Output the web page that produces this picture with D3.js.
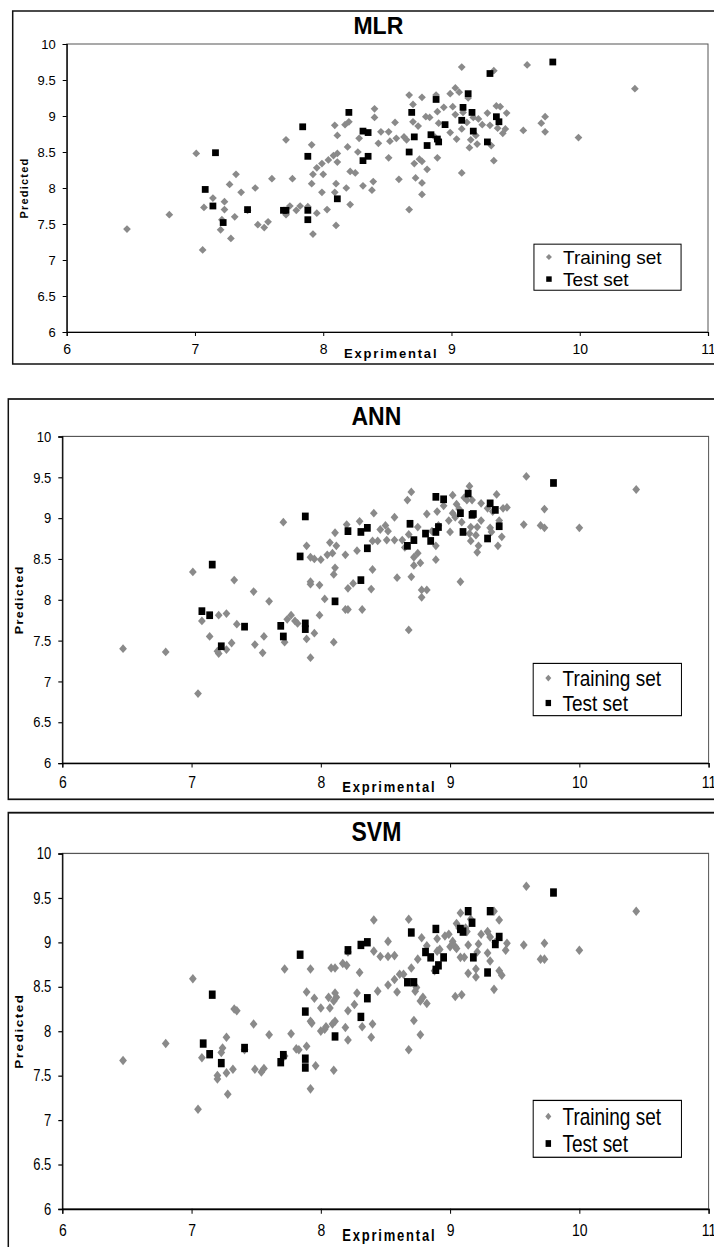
<!DOCTYPE html>
<html>
<head>
<meta charset="utf-8">
<script src="https://cdn.jsdelivr.net/npm/d3@7"></script>
<style>
  body { margin: 0; background: #fff; }
  text { font-family: "Liberation Sans", Arial, sans-serif; fill: #000; }
</style>
</head>
<body>
<div id="chart"></div>
<script>
var mlrTrain = [
  [6.47,7.43],[6.80,7.63],[7.01,8.48],[7.06,7.14],[7.07,7.73],[7.14,7.86],[7.20,7.42],[7.21,7.56],
  [7.23,7.81],[7.23,7.70],[7.27,8.05],[7.28,7.30],[7.31,7.60],[7.32,8.19],[7.36,7.94],[7.41,7.69],
  [7.47,8.00],[7.49,7.49],[7.54,7.45],[7.57,7.53],[7.60,8.13],[7.71,8.67],[7.71,7.63],[7.76,8.13],
  [7.74,7.75],[7.79,7.69],[7.82,7.75],[7.88,7.74],[7.91,8.60],[7.92,8.19],[7.91,8.06],[7.92,7.36],
  [7.95,7.65],[7.95,8.28],[7.99,8.34],[7.99,7.94],[8.00,8.19],[8.03,7.70],[8.04,8.39],[8.08,8.45],
  [8.09,8.87],[8.09,7.94],[8.10,7.48],[8.11,8.48],[8.11,8.73],[8.10,8.06],[8.11,8.36],[8.17,8.88],
  [8.19,8.57],[8.18,8.00],[8.20,8.92],[8.21,8.23],[8.21,7.77],[8.25,8.21],[8.27,8.50],[8.28,8.69],
  [8.31,8.03],[8.38,7.97],[8.39,8.09],[8.40,9.10],[8.40,8.98],[8.43,8.62],[8.45,8.78],[8.51,8.42],
  [8.51,8.78],[8.52,8.65],[8.56,8.91],[8.57,8.69],[8.59,8.12],[8.63,8.71],[8.67,9.29],[8.67,7.70],
  [8.65,8.67],[8.70,9.16],[8.70,8.92],[8.71,8.34],[8.72,8.14],[8.74,8.86],[8.75,8.40],[8.77,8.37],
  [8.77,9.26],[8.77,8.07],[8.77,7.91],[8.80,8.99],[8.81,8.26],[8.83,8.98],[8.87,8.71],[8.88,9.29],
  [8.89,8.42],[8.89,9.06],[8.90,8.90],[8.94,9.12],[8.99,9.31],[8.99,8.77],[9.01,9.13],[9.03,9.02],
  [9.03,9.39],[9.04,8.68],[9.06,9.33],[9.08,8.82],[9.08,9.68],[9.08,8.21],[9.09,9.05],[9.12,8.91],
  [9.13,9.25],[9.14,8.56],[9.15,8.67],[9.17,8.98],[9.19,8.73],[9.20,8.61],[9.21,8.96],[9.24,8.88],
  [9.28,9.04],[9.30,8.87],[9.31,8.59],[9.33,8.38],[9.33,9.63],[9.35,9.14],[9.36,8.83],[9.38,9.13],
  [9.40,8.76],[9.42,8.82],[9.43,9.04],[9.56,8.80],[9.59,9.71],[9.70,8.90],[9.73,8.99],[9.73,8.78],
  [9.99,8.70],[10.43,9.38]
];
var mlrTest = [
  [7.08,7.98],[7.14,7.75],[7.16,8.49],[7.22,7.52],[7.41,7.70],[7.69,7.69],[7.71,7.69],[7.84,8.85],
  [7.88,8.44],[7.88,7.69],[7.88,7.56],[8.11,7.85],[8.20,9.05],[8.31,8.79],[8.35,8.77],[8.31,8.38],
  [8.35,8.44],[8.67,8.50],[8.69,9.05],[8.71,8.71],[8.81,8.59],[8.84,8.74],[8.88,9.23],[8.89,8.68],
  [8.90,8.64],[8.95,8.88],[9.08,8.94],[9.09,9.12],[9.13,9.31],[9.16,9.05],[9.17,8.79],[9.28,8.64],
  [9.30,9.59],[9.35,8.99],[9.37,8.92],[9.79,9.75]
];
var annTrain = [
  [6.47,7.40],[6.80,7.36],[7.01,8.34],[7.05,6.85],[7.08,7.74],[7.14,7.55],[7.21,7.81],[7.21,7.34],
  [7.20,7.37],[7.27,7.83],[7.27,7.39],[7.31,7.47],[7.33,8.24],[7.35,7.70],[7.48,8.10],[7.49,7.45],
  [7.55,7.35],[7.56,7.55],[7.60,7.98],[7.71,8.95],[7.72,7.48],[7.74,7.76],[7.77,7.81],[7.80,7.74],
  [7.82,7.71],[7.89,8.66],[7.89,7.52],[7.92,8.52],[7.92,8.22],[7.92,8.19],[7.92,7.29],[7.95,8.50],
  [7.95,7.59],[7.99,8.18],[8.00,8.49],[7.99,7.81],[8.03,8.01],[8.05,8.55],[8.07,8.70],[8.09,8.57],
  [8.10,7.48],[8.10,8.31],[8.11,8.39],[8.11,8.82],[8.12,8.66],[8.19,8.55],[8.20,8.92],[8.21,8.14],
  [8.19,7.88],[8.21,7.88],[8.25,8.20],[8.28,8.60],[8.30,8.96],[8.32,7.88],[8.39,8.13],[8.40,8.37],
  [8.41,9.06],[8.40,8.72],[8.44,8.72],[8.46,8.86],[8.50,8.91],[8.51,8.73],[8.52,8.84],[8.57,9.01],
  [8.57,8.73],[8.59,8.27],[8.63,8.73],[8.65,8.64],[8.67,9.22],[8.68,7.63],[8.68,8.80],[8.70,9.32],
  [8.70,8.28],[8.72,8.52],[8.72,8.42],[8.75,8.57],[8.75,8.89],[8.77,8.45],[8.78,8.03],[8.78,8.12],
  [8.82,8.12],[8.82,9.05],[8.86,8.84],[8.89,8.49],[8.89,8.66],[8.90,9.08],[8.91,8.91],[8.95,9.15],
  [9.00,8.83],[8.99,8.97],[9.02,9.28],[9.02,9.06],[9.04,9.01],[9.05,9.17],[9.07,9.11],[9.08,8.22],
  [9.09,8.95],[9.11,9.25],[9.13,9.22],[9.15,9.39],[9.15,8.81],[9.16,8.89],[9.16,8.72],[9.17,9.22],
  [9.20,8.79],[9.21,8.89],[9.21,8.58],[9.22,8.66],[9.24,8.97],[9.24,9.18],[9.29,9.12],[9.31,8.88],
  [9.32,8.83],[9.33,9.08],[9.36,9.29],[9.37,8.66],[9.38,8.97],[9.40,8.77],[9.41,9.12],[9.44,9.13],
  [9.57,8.92],[9.59,9.51],[9.70,8.91],[9.73,8.88],[9.73,9.11],[10.00,8.88],[10.44,9.35]
];
var annTest = [
  [7.08,7.86],[7.14,7.81],[7.16,8.43],[7.23,7.43],[7.41,7.67],[7.69,7.68],[7.71,7.55],[7.84,8.53],
  [7.88,9.02],[7.88,7.71],[7.88,7.64],[8.11,7.98],[8.21,8.84],[8.31,8.83],[8.36,8.88],[8.36,8.63],
  [8.31,8.24],[8.67,8.66],[8.69,8.93],[8.72,8.73],[8.81,8.81],[8.85,8.72],[8.89,9.26],[8.89,8.83],
  [8.91,8.89],[8.95,9.23],[9.08,9.06],[9.10,8.83],[9.14,9.30],[9.17,9.04],[9.18,9.05],[9.29,8.75],
  [9.31,9.18],[9.35,9.10],[9.38,8.90],[9.80,9.43]
];
var svmTrain = [
  [6.47,7.67],[6.80,7.86],[7.01,8.59],[7.05,7.12],[7.08,7.70],[7.23,7.76],[7.24,7.81],[7.20,7.50],
  [7.20,7.46],[7.27,7.93],[7.27,7.53],[7.28,7.29],[7.32,7.57],[7.33,8.25],[7.35,8.23],[7.41,7.79],
  [7.48,8.08],[7.49,7.57],[7.54,7.54],[7.56,7.58],[7.60,7.96],[7.72,8.70],[7.72,7.72],[7.77,7.97],
  [7.81,7.80],[7.83,7.79],[7.89,7.83],[7.89,8.44],[7.92,8.70],[7.92,8.11],[7.93,8.09],[7.92,7.35],
  [7.95,8.37],[7.96,7.61],[8.00,8.26],[8.00,8.00],[8.03,8.02],[8.04,8.05],[8.06,8.38],[8.07,8.26],
  [8.08,8.71],[8.09,8.08],[8.10,7.56],[8.10,8.34],[8.11,8.11],[8.11,8.71],[8.12,8.38],[8.11,8.43],
  [8.17,8.76],[8.20,8.74],[8.19,8.04],[8.21,7.90],[8.21,8.23],[8.21,8.89],[8.26,8.30],[8.28,8.43],
  [8.30,8.66],[8.32,8.05],[8.39,7.93],[8.40,8.08],[8.41,9.25],[8.41,8.90],[8.44,8.45],[8.46,8.84],
  [8.52,8.52],[8.52,9.01],[8.52,8.84],[8.57,8.58],[8.57,8.85],[8.59,8.44],[8.61,8.64],[8.64,8.64],
  [8.68,7.79],[8.68,9.26],[8.70,8.71],[8.72,8.12],[8.73,8.45],[8.74,8.49],[8.75,8.81],[8.77,8.34],
  [8.77,7.96],[8.78,9.05],[8.79,8.38],[8.82,8.31],[8.82,8.96],[8.88,8.68],[8.90,9.04],[8.90,8.90],
  [8.92,8.92],[8.96,9.07],[8.99,9.09],[9.00,8.95],[9.02,9.01],[9.04,8.95],[9.05,9.21],[9.05,8.93],
  [9.04,8.39],[9.07,9.16],[9.08,9.33],[9.09,8.41],[9.08,8.83],[9.11,8.83],[9.12,9.16],[9.13,9.12],
  [9.14,8.97],[9.14,8.65],[9.16,9.26],[9.20,8.70],[9.20,8.61],[9.21,8.89],[9.22,8.98],[9.24,9.09],
  [9.29,9.12],[9.29,8.88],[9.31,8.79],[9.31,9.06],[9.34,8.47],[9.35,9.00],[9.34,9.35],[9.38,9.25],
  [9.38,8.68],[9.40,8.63],[9.43,8.91],[9.44,8.99],[9.57,8.97],[9.59,9.63],[9.70,8.81],[9.73,8.81],
  [9.73,8.99],[10.00,8.91],[10.44,9.35]
];
var svmTest = [
  [7.09,7.86],[7.14,7.74],[7.16,8.41],[7.23,7.64],[7.41,7.81],[7.69,7.65],[7.71,7.73],[7.84,8.86],
  [7.88,8.22],[7.88,7.69],[7.88,7.59],[8.11,7.94],[8.21,8.91],[8.31,8.97],[8.36,9.00],[8.36,8.37],
  [8.31,8.16],[8.67,8.55],[8.70,9.11],[8.72,8.55],[8.81,8.89],[8.85,8.83],[8.89,9.15],[8.89,8.69],
  [8.91,8.74],[8.95,8.83],[9.08,9.15],[9.10,9.12],[9.14,9.35],[9.17,9.22],[9.18,8.83],[9.29,8.66],
  [9.31,9.35],[9.35,8.98],[9.38,9.06],[9.80,9.56]
];

var panelNames = ["MLR", "ANN", "SVM"];
var xTicks = [6, 7, 8, 9, 10, 11];
var yTicks = [6, 6.5, 7, 7.5, 8, 8.5, 9, 9.5, 10];
var legendLabels = ["Training set", "Test set"];
var xTitle = "Exprimental";
var yTitle = "Predicted";

// the three panels in the picture are stretched by different amounts
var panels = [
  { name: panelNames[0], train: mlrTrain, test: mlrTest, left: 12.7, top: 11,    sy: 1,     plotW: 641.3 },
  { name: panelNames[1], train: annTrain, test: annTest, left: 8.3,  top: 399,   sy: 1.134, plotW: 646.3 },
  { name: panelNames[2], train: svmTrain, test: svmTest, left: 8.3,  top: 812.7, sy: 1.234, plotW: 646.3 }
];

var width = 714, height = 1247;
var frameH = 353, plotLeft = 54, plotTop = 33, plotH = 288;

var svg = d3.select("#chart").append("svg")
    .attr("width", width)
    .attr("height", height);

var grey = "#8a8a8a";

panels.forEach(function (p) {
    var g = svg.append("g")
        .attr("transform", "translate(" + p.left + "," + p.top + ") scale(1," + p.sy + ")");

    var x = d3.scaleLinear().domain([6, 11]).range([plotLeft, plotLeft + p.plotW]);
    var y = d3.scaleLinear().domain([6, 10]).range([plotTop + plotH, plotTop]);

    //outer frame, runs off the right edge like the picture
    g.append("rect")
        .attr("x", 0).attr("y", 0)
        .attr("width", 760).attr("height", frameH)
        .attr("fill", "none")
        .attr("stroke", "#111")
        .attr("stroke-width", 1.5);

    //plot area border
    g.append("rect")
        .attr("x", x(6)).attr("y", y(10))
        .attr("width", x(11) - x(6)).attr("height", y(6) - y(10))
        .attr("fill", "none")
        .attr("stroke", "#555")
        .attr("stroke-width", 1);

    g.append("text")
        .attr("x", x(8.43))
        .attr("y", 23)
        .attr("text-anchor", "middle")
        .style("font-size", "23px")
        .style("font-weight", "bold")
        .text(p.name);

    var xAxis = g.append("g")
        .attr("transform", "translate(0," + y(6) + ")")
        .call(d3.axisBottom(x).tickValues(xTicks).tickSize(4).tickPadding(8).tickFormat(d3.format("d")));
    var yAxis = g.append("g")
        .attr("transform", "translate(" + x(6) + ",0)")
        .call(d3.axisLeft(y).tickValues(yTicks).tickSize(4).tickPadding(7).tickFormat(function (d) { return String(d); }));

    [xAxis, yAxis].forEach(function (a) {
        a.select(".domain").attr("stroke", "#000").attr("stroke-width", 1.2);
        a.selectAll(".tick line").attr("stroke", "#000");
        a.selectAll(".tick text")
            .style("font-family", "'Liberation Sans', Arial, sans-serif")
            .attr("fill", "#000");
    });
    xAxis.selectAll(".tick text").style("font-size", "14px");
    yAxis.selectAll(".tick text").style("font-size", "13px");

    g.append("text")
        .attr("x", x(8.53))
        .attr("y", y(6) + 26)
        .attr("text-anchor", "middle")
        .style("font-size", "13px")
        .style("font-weight", "bold")
        .style("letter-spacing", "1.8px")
        .text(xTitle);

    g.append("text")
        .attr("transform", "translate(15," + (plotTop + plotH / 2) + ") rotate(-90)")
        .attr("text-anchor", "middle")
        .style("font-size", "11px")
        .style("font-weight", "bold")
        .style("letter-spacing", "1.2px")
        .text(yTitle);

    var diamond = d3.symbol().type(d3.symbolSquare).size(30);
    var square = d3.symbol().type(d3.symbolSquare).size(46);

    g.append("g").selectAll("path")
        .data(p.train)
        .enter()
        .append("path")
        .attr("d", diamond)
        .attr("transform", function (d) {
            return "translate(" + x(d[0]) + "," + y(d[1]) + ") rotate(45)";
        })
        .attr("fill", grey);

    g.append("g").selectAll("path")
        .data(p.test)
        .enter()
        .append("path")
        .attr("d", square)
        .attr("transform", function (d) {
            return "translate(" + x(d[0]) + "," + y(d[1]) + ")";
        })
        .attr("fill", "#000");

    //legend box sits at the same data position in every panel
    var lg = g.append("g");
    lg.append("rect")
        .attr("x", x(9.643)).attr("y", y(7.22))
        .attr("width", x(10.79) - x(9.643)).attr("height", y(6.58) - y(7.22))
        .attr("fill", "#fff")
        .attr("stroke", "#000")
        .attr("stroke-width", 1);

    var rows = [y(7.04), y(6.735)];
    lg.append("path")
        .attr("d", d3.symbol().type(d3.symbolSquare).size(18))
        .attr("transform", "translate(" + x(9.76) + "," + rows[0] + ") rotate(45)")
        .attr("fill", grey);
    lg.append("path")
        .attr("d", d3.symbol().type(d3.symbolSquare).size(30))
        .attr("transform", "translate(" + x(9.76) + "," + rows[1] + ")")
        .attr("fill", "#000");

    lg.selectAll("text.leg")
        .data(legendLabels)
        .enter()
        .append("text")
        .attr("class", "leg")
        .attr("x", x(9.87))
        .attr("y", function (d, i) { return rows[i]; })
        .attr("dy", "0.36em")
        .style("font-size", "19px")
        .text(function (d) { return d; });
});
</script>
</body>
</html>
